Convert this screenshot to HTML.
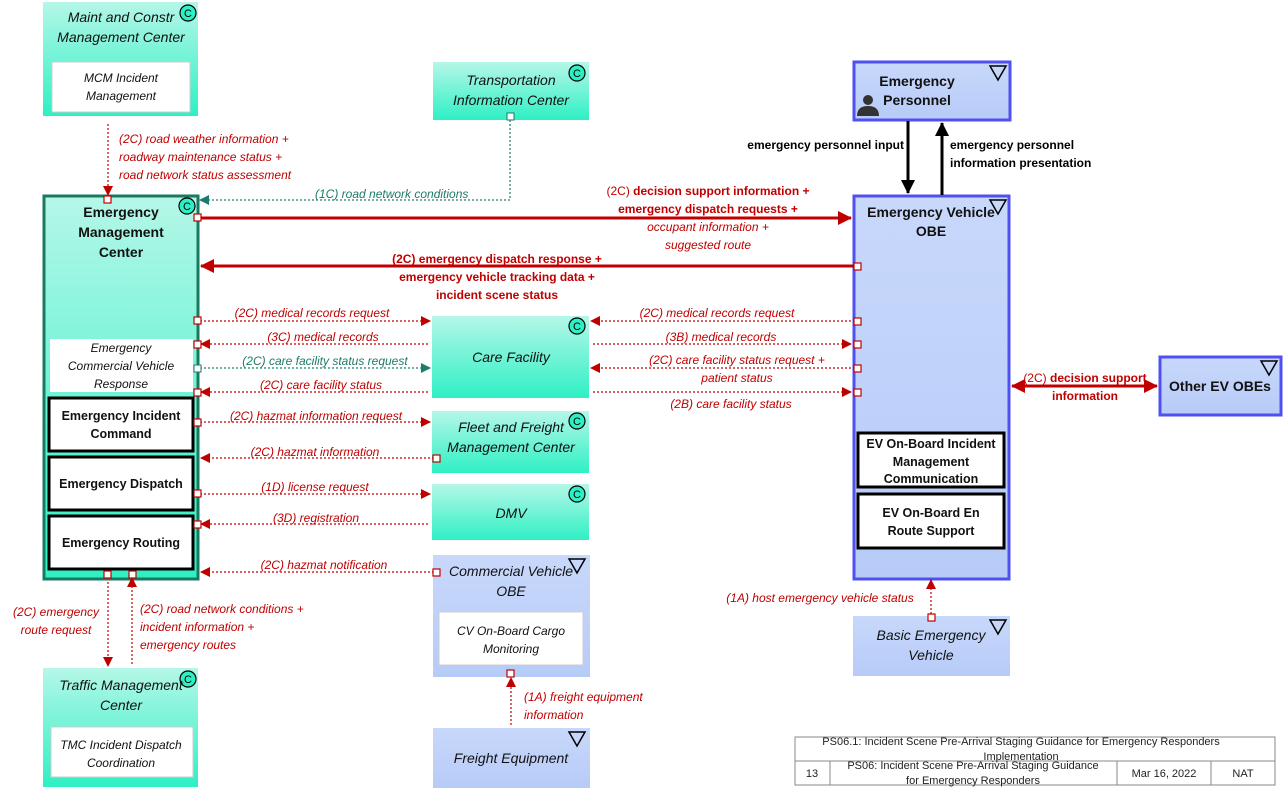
<!DOCTYPE html>
<html><head><meta charset="utf-8"><style>
body{margin:0;background:#fff;width:1285px;height:796px;overflow:hidden;font-family:"Liberation Sans",sans-serif}
svg text{font-family:"Liberation Sans",sans-serif}
.it{font-style:italic;fill:#c00000;font-size:12px}
.itg{font-style:italic;fill:#1e7a6a;font-size:12px}
.bd{font-weight:bold;fill:#c00000;font-size:12px}
.n{font-size:14px;fill:#111}
.nb{font-size:14px;font-weight:bold;fill:#111}
.ni{font-size:14px;font-style:italic;fill:#111}
.s{font-size:12px;fill:#111}
.sb{font-size:12.5px;font-weight:bold;fill:#111}
.si{font-size:12px;font-style:italic;fill:#111}
</style></head><body>
<svg width="1285" height="796" viewBox="0 0 1285 796" xmlns="http://www.w3.org/2000/svg">
<defs>
<linearGradient id="tg" x1="0" y1="0" x2="0" y2="1"><stop offset="0" stop-color="#b5f7e8"/><stop offset="1" stop-color="#2ef0c4"/></linearGradient>
<linearGradient id="bg" x1="0" y1="0" x2="0" y2="1"><stop offset="0" stop-color="#c8d8fb"/><stop offset="1" stop-color="#b7cbf8"/></linearGradient>
<marker id="ar" markerWidth="10" markerHeight="10" refX="9" refY="5" orient="auto" markerUnits="userSpaceOnUse"><path d="M0,0L10,5L0,10z" fill="#c00000"/></marker>
<marker id="ag" markerWidth="10" markerHeight="10" refX="9" refY="5" orient="auto" markerUnits="userSpaceOnUse"><path d="M0,0L10,5L0,10z" fill="#1e7a6a"/></marker>
<marker id="ab" markerWidth="14" markerHeight="14" refX="13" refY="7" orient="auto" markerUnits="userSpaceOnUse"><path d="M0,0L14,7L0,14z" fill="#c00000"/></marker>
<marker id="ak" markerWidth="14" markerHeight="14" refX="13" refY="7" orient="auto" markerUnits="userSpaceOnUse"><path d="M0,0L14,7L0,14z" fill="#000"/></marker>
</defs>

<!-- boxes -->
<g stroke="#9ad">
<rect x="43" y="2" width="155" height="114" fill="url(#tg)" stroke="none"/>
<rect x="433" y="62" width="156" height="58" fill="url(#tg)" stroke="none"/>
<rect x="432" y="316" width="157" height="82" fill="url(#tg)" stroke="none"/>
<rect x="432" y="411" width="157" height="62" fill="url(#tg)" stroke="none"/>
<rect x="432" y="484" width="157" height="56" fill="url(#tg)" stroke="none"/>
<rect x="43" y="668" width="155" height="119" fill="url(#tg)" stroke="none"/>
<rect x="433" y="555" width="157" height="122" fill="url(#bg)" stroke="none"/>
<rect x="433" y="728" width="157" height="60" fill="url(#bg)" stroke="none"/>
<rect x="853" y="616" width="157" height="60" fill="url(#bg)" stroke="none"/>
</g>
<rect x="44" y="196" width="154" height="383" fill="url(#tg)" stroke="#1a7a60" stroke-width="3"/>
<rect x="854" y="62" width="156" height="58" fill="url(#bg)" stroke="#5050f0" stroke-width="3"/>
<rect x="854" y="196" width="155" height="383" fill="url(#bg)" stroke="#5050f0" stroke-width="3"/>
<rect x="1160" y="357" width="121" height="58" fill="url(#bg)" stroke="#5050f0" stroke-width="3"/>

<!-- inner boxes -->
<rect x="52" y="62" width="138" height="50" fill="#fff" stroke="#ccc"/>
<rect x="51" y="727" width="142" height="50" fill="#fff" stroke="#ccc"/>
<rect x="439" y="612" width="144" height="53" fill="#fff" stroke="#ccc"/>
<rect x="50" y="339" width="143" height="53" fill="#fff"/>
<rect x="49" y="398" width="144" height="53" fill="#fff" stroke="#000" stroke-width="3"/>
<rect x="49" y="457" width="144" height="53" fill="#fff" stroke="#000" stroke-width="3"/>
<rect x="49" y="516" width="144" height="53" fill="#fff" stroke="#000" stroke-width="3"/>
<rect x="858" y="433" width="146" height="54" fill="#fff" stroke="#000" stroke-width="3"/>
<rect x="858" y="494" width="146" height="54" fill="#fff" stroke="#000" stroke-width="3"/>

<!-- icons C -->
<g fill="none" stroke="#000" stroke-width="1.2" font-size="10">
<circle cx="188" cy="13" r="8" fill="#2ef0c4"/><circle cx="577" cy="73" r="8" fill="#2ef0c4"/>
<circle cx="187" cy="206" r="8" fill="#2ef0c4"/><circle cx="577" cy="326" r="8" fill="#2ef0c4"/>
<circle cx="577" cy="421" r="8" fill="#2ef0c4"/><circle cx="577" cy="494" r="8" fill="#2ef0c4"/>
<circle cx="188" cy="679" r="8" fill="#2ef0c4"/>
</g>
<g font-size="11" text-anchor="middle" fill="#000">
<text x="188" y="17">C</text><text x="577" y="77">C</text><text x="187" y="210">C</text><text x="577" y="330">C</text><text x="577" y="425">C</text><text x="577" y="498">C</text><text x="188" y="683">C</text>
</g>
<!-- V triangles -->
<g fill="none" stroke="#000" stroke-width="1.5">
<path d="M990,66h16l-8,14z"/><path d="M990,200h16l-8,14z"/><path d="M1261,361h16l-8,14z"/>
<path d="M569,559h16l-8,14z"/><path d="M569,732h16l-8,14z"/><path d="M990,620h16l-8,14z"/>
</g>
<!-- person icon -->
<circle cx="868" cy="100" r="5" fill="#333"/><path d="M857,116q0,-10 11,-10q11,0 11,10z" fill="#333"/>

<!-- text in boxes -->
<g text-anchor="middle">
<text class="ni" x="121" y="22">Maint and Constr</text><text class="ni" x="121" y="42">Management Center</text>
<text class="si" x="121" y="82">MCM Incident</text><text class="si" x="121" y="100">Management</text>
<text class="ni" x="511" y="85">Transportation</text><text class="ni" x="511" y="105">Information Center</text>
<text class="nb" x="917" y="86">Emergency</text><text class="nb" x="917" y="105">Personnel</text>
<text class="nb" x="121" y="217">Emergency</text><text class="nb" x="121" y="237">Management</text><text class="nb" x="121" y="257">Center</text>
<text class="si" x="121" y="352">Emergency</text><text class="si" x="121" y="370">Commercial Vehicle</text><text class="si" x="121" y="388">Response</text>
<text class="sb" x="121" y="420">Emergency Incident</text><text class="sb" x="121" y="438">Command</text>
<text class="sb" x="121" y="488">Emergency Dispatch</text>
<text class="sb" x="121" y="547">Emergency Routing</text>
<text class="nb" x="931" y="217">Emergency Vehicle</text><text class="nb" x="931" y="236">OBE</text>
<text class="sb" x="931" y="448">EV On-Board Incident</text><text class="sb" x="931" y="466">Management</text><text class="sb" x="931" y="483">Communication</text>
<text class="sb" x="931" y="517">EV On-Board En</text><text class="sb" x="931" y="535">Route Support</text>
<text class="nb" x="1220" y="391">Other EV OBEs</text>
<text class="ni" x="511" y="362">Care Facility</text>
<text class="ni" x="511" y="432">Fleet and Freight</text><text class="ni" x="511" y="452">Management Center</text>
<text class="ni" x="511" y="518">DMV</text>
<text class="ni" x="511" y="576">Commercial Vehicle</text><text class="ni" x="511" y="596">OBE</text>
<text class="si" x="511" y="635">CV On-Board Cargo</text><text class="si" x="511" y="653">Monitoring</text>
<text class="ni" x="511" y="763">Freight Equipment</text>
<text class="ni" x="931" y="640">Basic Emergency</text><text class="ni" x="931" y="660">Vehicle</text>
<text class="ni" x="121" y="690">Traffic Management</text><text class="ni" x="121" y="710">Center</text>
<text class="si" x="121" y="749">TMC Incident Dispatch</text><text class="si" x="121" y="767">Coordination</text>
</g>

<!-- connectors -->
<g fill="none" stroke-width="1.2">
<path d="M108,124V195" stroke="#c00000" stroke-dasharray="2,2" marker-end="url(#ar)"/>
<path d="M510,120V200H200" stroke="#1e7a6a" stroke-dasharray="2,2" marker-end="url(#ag)"/>
<path d="M200,218H851" stroke="#c00000" stroke-width="3" marker-end="url(#ab)"/>
<path d="M855,266H201" stroke="#c00000" stroke-width="3" marker-end="url(#ab)"/>
<path d="M200,321H430" stroke="#c00000" stroke-dasharray="2,2" marker-end="url(#ar)"/>
<path d="M428,344H201" stroke="#c00000" stroke-dasharray="2,2" marker-end="url(#ar)"/>
<path d="M200,368H430" stroke="#1e7a6a" stroke-dasharray="2,2" marker-end="url(#ag)"/>
<path d="M428,392H201" stroke="#c00000" stroke-dasharray="2,2" marker-end="url(#ar)"/>
<path d="M855,321H591" stroke="#c00000" stroke-dasharray="2,2" marker-end="url(#ar)"/>
<path d="M593,344H851" stroke="#c00000" stroke-dasharray="2,2" marker-end="url(#ar)"/>
<path d="M855,368H591" stroke="#c00000" stroke-dasharray="2,2" marker-end="url(#ar)"/>
<path d="M593,392H851" stroke="#c00000" stroke-dasharray="2,2" marker-end="url(#ar)"/>
<path d="M200,422H430" stroke="#c00000" stroke-dasharray="2,2" marker-end="url(#ar)"/>
<path d="M434,458H201" stroke="#c00000" stroke-dasharray="2,2" marker-end="url(#ar)"/>
<path d="M200,494H430" stroke="#c00000" stroke-dasharray="2,2" marker-end="url(#ar)"/>
<path d="M428,524H201" stroke="#c00000" stroke-dasharray="2,2" marker-end="url(#ar)"/>
<path d="M434,572H201" stroke="#c00000" stroke-dasharray="2,2" marker-end="url(#ar)"/>
<path d="M108,582V666" stroke="#c00000" stroke-dasharray="2,2" marker-end="url(#ar)"/>
<path d="M132,664V578" stroke="#c00000" stroke-dasharray="2,2" marker-end="url(#ar)"/>
<path d="M511,725V678" stroke="#c00000" stroke-dasharray="2,2" marker-end="url(#ar)"/>
<path d="M931,614V580" stroke="#c00000" stroke-dasharray="2,2" marker-end="url(#ar)"/>
<path d="M1013,386H1157" stroke="#c00000" stroke-width="3" marker-end="url(#ab)"/>
<path d="M1157,386H1012" stroke="#c00000" stroke-width="3" marker-end="url(#ab)"/>
<path d="M908,121V193" stroke="#000" stroke-width="3" marker-end="url(#ak)"/>
<path d="M942,195V123" stroke="#000" stroke-width="3" marker-end="url(#ak)"/>
</g>
<!-- port squares -->
<g fill="#fff" stroke="#c00000" stroke-width="1.2">
<rect x="104" y="196" width="7" height="7"/><rect x="194" y="214" width="7" height="7"/>
<rect x="854" y="263" width="7" height="7"/>
<rect x="194" y="317" width="7" height="7"/><rect x="194" y="341" width="7" height="7"/><rect x="194" y="389" width="7" height="7"/>
<rect x="194" y="419" width="7" height="7"/><rect x="194" y="490" width="7" height="7"/><rect x="194" y="521" width="7" height="7"/>
<rect x="854" y="318" width="7" height="7"/><rect x="854" y="341" width="7" height="7"/><rect x="854" y="365" width="7" height="7"/><rect x="854" y="389" width="7" height="7"/>
<rect x="433" y="455" width="7" height="7"/><rect x="433" y="569" width="7" height="7"/>
<rect x="104" y="571" width="7" height="7"/><rect x="129" y="571" width="7" height="7"/>
<rect x="507" y="670" width="7" height="7"/><rect x="928" y="614" width="7" height="7"/>
</g>
<rect x="194" y="365" width="7" height="7" fill="#fff" stroke="#1e7a6a"/>
<rect x="507" y="113" width="7" height="7" fill="#fff" stroke="#1e7a6a"/>

<!-- labels -->
<text class="it" x="119" y="143">(2C) road weather information +</text>
<text class="it" x="119" y="161">roadway maintenance status +</text>
<text class="it" x="119" y="179">road network status assessment</text>
<text class="itg" x="315" y="198">(1C) road network conditions</text>
<g text-anchor="middle">
<text class="bd" x="708" y="195"><tspan font-weight="normal">(2C)</tspan> decision support information +</text>
<text class="bd" x="708" y="213">emergency dispatch requests +</text>
<text class="it" x="708" y="231">occupant information +</text>
<text class="it" x="708" y="249">suggested route</text>
<text class="bd" x="497" y="263">(2C) emergency dispatch response +</text>
<text class="bd" x="497" y="281">emergency vehicle tracking data +</text>
<text class="bd" x="497" y="299">incident scene status</text>
<text class="it" x="312" y="317">(2C) medical records request</text>
<text class="it" x="323" y="341">(3C) medical records</text>
<text class="itg" x="325" y="365">(2C) care facility status request</text>
<text class="it" x="321" y="389">(2C) care facility status</text>
<text class="it" x="316" y="420">(2C) hazmat information request</text>
<text class="it" x="315" y="456">(2C) hazmat information</text>
<text class="it" x="315" y="491">(1D) license request</text>
<text class="it" x="316" y="522">(3D) registration</text>
<text class="it" x="324" y="569">(2C) hazmat notification</text>
<text class="it" x="717" y="317">(2C) medical records request</text>
<text class="it" x="721" y="341">(3B) medical records</text>
<text class="it" x="737" y="364">(2C) care facility status request +</text>
<text class="it" x="737" y="382">patient status</text>
<text class="it" x="731" y="408">(2B) care facility status</text>
<text class="bd" x="1085" y="382"><tspan font-weight="normal">(2C)</tspan> decision support</text>
<text class="bd" x="1085" y="400">information</text>
<text class="it" x="56" y="616">(2C) emergency</text>
<text class="it" x="56" y="634">route request</text>
<text class="it" x="820" y="602">(1A) host emergency vehicle status</text>
</g>
<text class="it" x="140" y="613">(2C) road network conditions +</text>
<text class="it" x="140" y="631">incident information +</text>
<text class="it" x="140" y="649">emergency routes</text>
<text class="it" x="524" y="701">(1A) freight equipment</text>
<text class="it" x="524" y="719">information</text>
<text x="904" y="149" font-size="12" font-weight="bold" text-anchor="end">emergency personnel input</text>
<text x="950" y="149" font-size="12" font-weight="bold">emergency personnel</text>
<text x="950" y="167" font-size="12" font-weight="bold">information presentation</text>

<!-- table -->
<g fill="none" stroke="#888">
<rect x="795" y="737" width="480" height="48"/>
<path d="M795,761H1275M830,761V785M1117,761V785M1211,761V785"/>
</g>
<g font-size="11" fill="#222" text-anchor="middle">
<text x="1021" y="745">PS06.1: Incident Scene Pre-Arrival Staging Guidance for Emergency Responders</text>
<text x="1021" y="760">Implementation</text>
<text x="812" y="777">13</text>
<text x="973" y="769">PS06: Incident Scene Pre-Arrival Staging Guidance</text>
<text x="973" y="784">for Emergency Responders</text>
<text x="1164" y="777">Mar 16, 2022</text>
<text x="1243" y="777">NAT</text>
</g>
</svg>
</body></html>
